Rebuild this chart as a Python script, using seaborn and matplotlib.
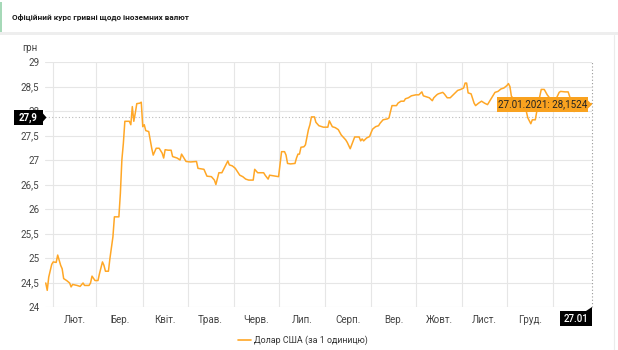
import matplotlib
matplotlib.use("Agg")
import matplotlib.pyplot as plt
import numpy as np
import pandas as pd
import seaborn as sns
from matplotlib.patches import Rectangle, Polygon
from matplotlib.lines import Line2D

# ---------------- data ----------------
dates = [
    "2020-01-27", "2020-01-28", "2020-01-29", "2020-01-31",
    "2020-02-01", "2020-02-03", "2020-02-04", "2020-02-06", "2020-02-07", "2020-02-08",
    "2020-02-10", "2020-02-12", "2020-02-13", "2020-02-14", "2020-02-17", "2020-02-19",
    "2020-02-21", "2020-02-22", "2020-02-25", "2020-02-26", "2020-02-27", "2020-02-29",
    "2020-03-02", "2020-03-03", "2020-03-05", "2020-03-06", "2020-03-07", "2020-03-09",
    "2020-03-10", "2020-03-12", "2020-03-13", "2020-03-16", "2020-03-17", "2020-03-18",
    "2020-03-19", "2020-03-20", "2020-03-23", "2020-03-24", "2020-03-25", "2020-03-26",
    "2020-03-27", "2020-03-28", "2020-03-30", "2020-03-31",
    "2020-04-01", "2020-04-02", "2020-04-03", "2020-04-05", "2020-04-07", "2020-04-08",
    "2020-04-10", "2020-04-12", "2020-04-14", "2020-04-15", "2020-04-16", "2020-04-18",
    "2020-04-20", "2020-04-21", "2020-04-24", "2020-04-26", "2020-04-27", "2020-04-28",
    "2020-04-30",
    "2020-05-03", "2020-05-07", "2020-05-08", "2020-05-12", "2020-05-14", "2020-05-17",
    "2020-05-19", "2020-05-20", "2020-05-22", "2020-05-24", "2020-05-26", "2020-05-28",
    "2020-05-29", "2020-05-31",
    "2020-06-02", "2020-06-05", "2020-06-07", "2020-06-09", "2020-06-11", "2020-06-14",
    "2020-06-15", "2020-06-17", "2020-06-21", "2020-06-22", "2020-06-24", "2020-06-25",
    "2020-06-29",
    "2020-07-01", "2020-07-03", "2020-07-05", "2020-07-06", "2020-07-07", "2020-07-09",
    "2020-07-12", "2020-07-13", "2020-07-14", "2020-07-15", "2020-07-16", "2020-07-18",
    "2020-07-19", "2020-07-21", "2020-07-22", "2020-07-23", "2020-07-25", "2020-07-26",
    "2020-07-28", "2020-07-31",
    "2020-08-03", "2020-08-04", "2020-08-06", "2020-08-08", "2020-08-10", "2020-08-12",
    "2020-08-15", "2020-08-16", "2020-08-18", "2020-08-21", "2020-08-24", "2020-08-25",
    "2020-08-26", "2020-08-27", "2020-08-29", "2020-08-31",
    "2020-09-01", "2020-09-02", "2020-09-04", "2020-09-06", "2020-09-07", "2020-09-09",
    "2020-09-12", "2020-09-13", "2020-09-14", "2020-09-15", "2020-09-18", "2020-09-19",
    "2020-09-21", "2020-09-23", "2020-09-24", "2020-09-26", "2020-09-28",
    "2020-10-01", "2020-10-03", "2020-10-05", "2020-10-06", "2020-10-08", "2020-10-10",
    "2020-10-12", "2020-10-13", "2020-10-15", "2020-10-16", "2020-10-19", "2020-10-20",
    "2020-10-22", "2020-10-24", "2020-10-26", "2020-10-29", "2020-10-31",
    "2020-11-02", "2020-11-03", "2020-11-04", "2020-11-05", "2020-11-07", "2020-11-09",
    "2020-11-10", "2020-11-12", "2020-11-14", "2020-11-16", "2020-11-18", "2020-11-20",
    "2020-11-23", "2020-11-25", "2020-11-27", "2020-11-29",
    "2020-12-01", "2020-12-02", "2020-12-03", "2020-12-04", "2020-12-07", "2020-12-11",
    "2020-12-14", "2020-12-15", "2020-12-17", "2020-12-18", "2020-12-20", "2020-12-21",
    "2020-12-23", "2020-12-24", "2020-12-26", "2020-12-28", "2020-12-30",
    "2021-01-03", "2021-01-05", "2021-01-06", "2021-01-09", "2021-01-11", "2021-01-12",
    "2021-01-15", "2021-01-19", "2021-01-23", "2021-01-27",
]
rates = [
    24.49, 24.34, 24.61, 24.87,
    24.92, 24.91, 25.06, 24.85, 24.78, 24.58,
    24.54, 24.49, 24.41, 24.46, 24.44, 24.42,
    24.49, 24.44, 24.44, 24.49, 24.63, 24.54,
    24.54, 24.68, 24.92, 24.85, 24.73, 24.73,
    24.99, 25.43, 25.84, 25.84, 26.32, 27.00,
    27.34, 27.79, 27.79, 27.72, 28.09, 27.79,
    27.96, 28.15, 28.16, 28.18,
    27.68, 27.72, 27.60, 27.58, 27.24, 27.10,
    27.24, 27.24, 27.14, 27.04, 27.21, 27.20,
    27.20, 27.07, 27.04, 27.00, 27.12, 27.07,
    26.97,
    26.96, 26.97, 26.83, 26.81, 26.67, 26.66,
    26.59, 26.50, 26.74, 26.74, 26.86, 26.98,
    26.90, 26.88,
    26.83, 26.69, 26.66, 26.61, 26.59, 26.59,
    26.81, 26.74, 26.74, 26.69, 26.61, 26.69,
    26.67,
    26.66, 27.17, 27.17, 27.10, 26.93, 26.92,
    26.93, 27.04, 27.12, 27.12, 27.26, 27.27,
    27.31, 27.62, 27.72, 27.88, 27.88, 27.77,
    27.70, 27.67,
    27.67, 27.80, 27.68, 27.66, 27.62, 27.51,
    27.41, 27.36, 27.23, 27.47, 27.47, 27.39,
    27.43, 27.39, 27.45, 27.48,
    27.56, 27.63, 27.68, 27.70, 27.75, 27.82,
    27.84, 27.86, 27.99, 28.11, 28.11, 28.16,
    28.20, 28.20, 28.25, 28.27, 28.31,
    28.33, 28.33, 28.39, 28.31, 28.29, 28.27,
    28.21, 28.27, 28.33, 28.35, 28.38, 28.35,
    28.27, 28.27, 28.33, 28.42, 28.44,
    28.47, 28.57, 28.57, 28.37, 28.35, 28.16,
    28.11, 28.16, 28.20, 28.16, 28.13, 28.23,
    28.38, 28.40, 28.45, 28.47,
    28.52, 28.56, 28.50, 28.30, 28.20, 28.10,
    27.99, 27.86, 27.74, 27.82, 27.82, 27.99,
    28.30, 28.44, 28.44, 28.33, 28.25,
    28.25, 28.38, 28.40, 28.39, 28.39, 28.30,
    27.99, 28.05, 28.12, 28.1524,
]
month_labels = ["Лют.", "Бер.", "Квіт.", "Трав.", "Черв.", "Лип.",
                "Серп.", "Вер.", "Жовт.", "Лист.", "Груд."]
y_ticks = [24, 24.5, 25, 25.5, 26, 26.5, 27, 27.5, 28, 28.5, 29]
title_text = "Офіційний курс гривні щодо іноземних валют"
unit_text = "грн"
series_name = "Долар США (за 1 одиницю)"
cursor_value = 27.87
cursor_value_label = "27,9"
cursor_date_label = "27.01"
tooltip_text = "27.01.2021: 28,1524"

# ---------------- style ----------------
LINE = "#FFA726"
TIP = "#F9A21F"
GRID = "#E6E6E6"
TXT = "#444444"

sns.set_theme(style="white")
plt.rcParams["font.family"] = ["Roboto", "DejaVu Sans"]

W, H = 618, 350
fig = plt.figure(figsize=(W / 100, H / 100), dpi=100)
fig.patch.set_facecolor("white")


def fx(px):
    return px / W


def fy(py):
    return 1 - py / H


# header
fig.patches.append(Rectangle((0, fy(32)), 1, fy(0) - fy(32), transform=fig.transFigure,
                             fc="white", ec="none", zorder=1))
fig.patches.append(Rectangle((0, fy(35)), 1, fy(32) - fy(35), transform=fig.transFigure,
                             fc="#EEEEEE", ec="none", zorder=1))
fig.patches.append(Rectangle((0, fy(32)), fx(2), fy(2) - fy(32), transform=fig.transFigure,
                             fc="#A6D9B8", ec="none", zorder=2))
fig.text(fx(12), fy(17), title_text, ha="left", va="center", fontsize=5.9,
         fontweight="bold", color="#1A1A1A")
fig.lines.append(Line2D([fx(614), fx(614)], [fy(35), fy(350)], transform=fig.transFigure,
                        color="#EBEBEB", lw=0.8))

# axes
ax = fig.add_axes([fx(45), fy(307), fx(592) - fx(45), fy(62) - fy(307)])
ax.set_facecolor("white")
df = pd.DataFrame({"date": pd.to_datetime(dates), "rate": rates})
sns.lineplot(data=df, x="date", y="rate", ax=ax, color=LINE, linewidth=1.1, legend=False)

x0 = pd.Timestamp("2020-01-26 12:00")
x1 = pd.Timestamp("2021-01-27")
ax.set_xlim(x0, x1)
ax.set_ylim(24, 29)

month_starts = pd.date_range("2020-02-01", "2021-01-01", freq="MS")
mids = [month_starts[i] + (month_starts[i + 1] - month_starts[i]) / 2
        for i in range(len(month_starts) - 1)]
ax.set_xticks(month_starts)
ax.set_xticklabels([""] * len(month_starts))
ax.set_xticks(mids, minor=True)
ax.set_xticklabels(month_labels, minor=True)
ax.set_yticks(y_ticks)
ax.set_yticklabels([f"{v:g}".replace(".", ",") for v in y_ticks])
ax.tick_params(axis="both", which="both", length=0, labelsize=7, labelcolor=TXT)
ax.tick_params(axis="x", which="minor", pad=5.5)
ax.tick_params(axis="y", pad=4)
ax.grid(True, which="major", color=GRID, lw=0.8)
ax.set_axisbelow(True)
ax.set_xlabel("")
ax.set_ylabel("")
for s in ax.spines.values():
    s.set_visible(False)

# crosshair
ax.axhline(cursor_value, color="#BBBBBB", lw=0.8, ls=(0, (1, 2)), zorder=1)
ax.axvline(x1, color="#999999", lw=0.8, ls=(0, (1, 2)), zorder=1, clip_on=False)

fig.text(fx(30), fy(48), unit_text, ha="center", va="center", fontsize=7, color=TXT)

# y cursor box (covers the "28" tick label, as in the source)
fig.patches.append(Rectangle((fx(14), fy(125)), fx(43) - fx(14), fy(110) - fy(125),
                             transform=fig.transFigure, fc="black", ec="none", zorder=5))
fig.patches.append(Polygon([(fx(43), fy(113.5)), (fx(46.5), fy(117.5)), (fx(43), fy(121.5))],
                           closed=True, transform=fig.transFigure, fc="black", ec="none",
                           zorder=5))
fig.text(fx(28.5), fy(117.5), cursor_value_label, ha="center", va="center", fontsize=7,
         fontweight="bold", color="white", zorder=6)

# x cursor box
fig.patches.append(Rectangle((fx(560), fy(326)), fx(592) - fx(560), fy(311) - fy(326),
                             transform=fig.transFigure, fc="black", ec="none", zorder=5))
fig.patches.append(Polygon([(fx(586), fy(311)), (fx(592), fy(307)), (fx(592), fy(311))],
                           closed=True, transform=fig.transFigure, fc="black", ec="none",
                           zorder=5))
fig.text(fx(576), fy(318.5), cursor_date_label, ha="center", va="center", fontsize=7,
         fontweight="medium", color="white", zorder=6)

# tooltip
fig.patches.append(Rectangle((fx(497), fy(112)), fx(588) - fx(497), fy(97) - fy(112),
                             transform=fig.transFigure, fc=TIP, ec="none", zorder=5))
fig.patches.append(Polygon([(fx(588), fy(100.5)), (fx(592), fy(104.5)), (fx(588), fy(108.5))],
                           closed=True, transform=fig.transFigure, fc=TIP, ec="none",
                           zorder=5))
fig.text(fx(542.5), fy(104.5), tooltip_text, ha="center", va="center", fontsize=7,
         color="#222222", zorder=6)

# legend
fig.lines.append(Line2D([fx(238), fx(251)], [fy(340), fy(340)], transform=fig.transFigure,
                        color=LINE, lw=1.2))
fig.text(fx(254), fy(340), series_name, ha="left", va="center", fontsize=6.4, color="#333333")

fig.savefig("out.png", dpi=100, facecolor="white")
